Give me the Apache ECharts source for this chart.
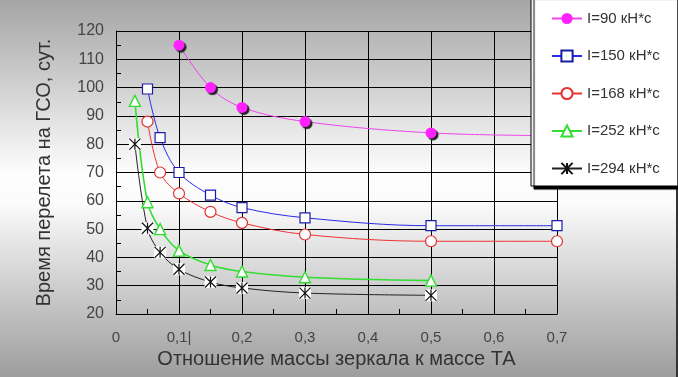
<!DOCTYPE html>
<html>
<head>
<meta charset="utf-8">
<script src="https://cdn.jsdelivr.net/npm/echarts@6/dist/echarts.min.js"></script>
<style>
  html, body { margin: 0; padding: 0; }
  #myChart { width: 678px; height: 377px; }
</style>
</head>
<body>
<div id="myChart"></div>
<script>
  // данные с графика
  var names = ['I=90 кН*с', 'I=150 кН*с', 'I=168 кН*с', 'I=252 кН*с', 'I=294 кН*с'];
  var xTickLabels = ['0', '0,1|', '0,2', '0,3', '0,4', '0,5', '0,6', '0,7'];

  var mass90 = [0.1, 0.15, 0.2, 0.3, 0.5, 0.7];
  var time90 = [115, 100, 93, 88, 84, 83];

  var mass150 = [0.05, 0.07, 0.1, 0.15, 0.2, 0.3, 0.5, 0.7];
  var time150 = [99.5, 82.3, 70, 62, 57.6, 54, 51.2, 51.2];
  var time168 = [88, 70, 62.6, 56.1, 52.2, 48.1, 45.7, 45.7];

  var mass252 = [0.03, 0.05, 0.07, 0.1, 0.15, 0.2, 0.3, 0.5];
  var time252 = [95.3, 59.5, 50, 42.4, 37.3, 35, 33, 31.8];
  var time294 = [80, 50.3, 41.8, 35.8, 31.3, 29.2, 27.4, 26.6];

  function pairs(xs, ys) {
    return xs.map(function (x, i) { return [x, ys[i]]; });
  }

  var starPath = 'path://M0,0L10,10M10,0L0,10M5,0L5,10';
  var font = '"Liberation Sans", Arial, sans-serif';

  var myChart = echarts.init(document.getElementById('myChart'));
  myChart.setOption({
    animation: false,
    backgroundColor: {
      type: 'linear', x: 0, y: 0, x2: 0, y2: 1,
      colorStops: [
        { offset: 0, color: '#a5a5a5' },
        { offset: 0.46, color: '#fdfdfd' },
        { offset: 0.54, color: '#fbfbfb' },
        { offset: 1, color: '#9d9d9d' }
      ]
    },
    textStyle: { fontFamily: font },
    graphic: [
      { type: 'rect', shape: { x: 676, y: 0, width: 2, height: 377 }, style: { fill: '#333' } }
    ],
    grid: { left: 116, right: 121, top: 31, bottom: 63 },
    legend: {
      orient: 'vertical',
      left: 531,
      top: -4,
      z: 10,
      data: names,
      itemWidth: 30,
      itemHeight: 14,
      itemGap: 22.5,
      padding: [15, 18, 10, 20],
      backgroundColor: '#fff',
      borderColor: '#000',
      borderWidth: 1,
      shadowColor: '#000',
      shadowBlur: 1,
      shadowOffsetX: 3,
      shadowOffsetY: 3,
      textStyle: { fontSize: 15, color: '#333', fontFamily: font }
    },
    xAxis: {
      type: 'value',
      min: 0,
      max: 0.7,
      interval: 0.1,
      name: 'Отношение массы зеркала к массе ТА',
      nameLocation: 'middle',
      nameGap: 35,
      nameTextStyle: { fontSize: 20, color: '#333' },
      axisLine: { lineStyle: { color: '#000', width: 1 } },
      axisTick: { show: true, inside: true, length: 4, lineStyle: { color: '#000' } },
      minorTick: { show: true, splitNumber: 2, length: 5, lineStyle: { color: '#000' } },
      splitLine: { show: true, lineStyle: { color: '#000', width: 1 } },
      axisLabel: {
        margin: 16,
        fontSize: 15,
        color: '#444',
        formatter: function (v) { return xTickLabels[Math.round(v * 10)]; }
      }
    },
    yAxis: {
      type: 'value',
      min: 20,
      max: 120,
      interval: 10,
      name: 'Время перелета на ГСО, сут.',
      nameLocation: 'middle',
      nameGap: 62,
      nameTextStyle: { fontSize: 20, color: '#333' },
      axisLine: { show: true, lineStyle: { color: '#000', width: 1 } },
      axisTick: { show: true, inside: true, length: 4, lineStyle: { color: '#000' } },
      minorTick: { show: true, splitNumber: 2, length: 5, lineStyle: { color: '#000' } },
      splitLine: { show: true, lineStyle: { color: '#000', width: 1 } },
      axisLabel: { margin: 12, fontSize: 16, color: '#444' }
    },
    series: [
      {
        name: names[0],
        type: 'line',
        smooth: 0.35,
        data: pairs(mass90, time90),
        symbol: 'circle',
        symbolSize: 11,
        lineStyle: { color: '#ee44ee', width: 1 },
        itemStyle: {
          color: '#ff22ff',
          borderWidth: 0,
          shadowColor: '#222',
          shadowBlur: 1,
          shadowOffsetX: 2,
          shadowOffsetY: 2
        }
      },
      {
        name: names[1],
        type: 'line',
        smooth: 0.35,
        data: pairs(mass150, time150),
        symbol: 'rect',
        symbolSize: 10,
        lineStyle: { color: '#2a2ae8', width: 1 },
        itemStyle: { color: '#fff', borderColor: '#1c1ca8', borderWidth: 1.2 }
      },
      {
        name: names[2],
        type: 'line',
        smooth: 0.35,
        data: pairs(mass150, time168),
        symbol: 'circle',
        symbolSize: 11,
        lineStyle: { color: '#ee3333', width: 1 },
        itemStyle: { color: '#fff', borderColor: '#e03030', borderWidth: 1.2 }
      },
      {
        name: names[3],
        type: 'line',
        smooth: 0.35,
        data: pairs(mass252, time252),
        symbol: 'triangle',
        symbolSize: 11,
        lineStyle: { color: '#33dd33', width: 1.6 },
        itemStyle: { color: '#fff', borderColor: '#33dd33', borderWidth: 1.4 }
      },
      {
        name: names[4],
        type: 'line',
        smooth: 0.35,
        data: pairs(mass252, time294),
        symbol: starPath,
        symbolSize: 11,
        lineStyle: { color: '#222', width: 1 },
        itemStyle: { color: '#fff', borderColor: '#111', borderWidth: 1.2 }
      },
      // белые квадраты под маркерами I=294
      {
        name: names[4],
        type: 'line',
        z: 3,
        data: pairs(mass252, time294),
        symbol: 'rect',
        symbolSize: 12,
        lineStyle: { width: 0, opacity: 0 },
        itemStyle: { color: '#fff', borderWidth: 0 }
      },
      {
        name: names[4],
        type: 'line',
        z: 4,
        data: pairs(mass252, time294),
        symbol: starPath,
        symbolSize: 11,
        lineStyle: { width: 0, opacity: 0 },
        itemStyle: { color: '#fff', borderColor: '#111', borderWidth: 1.2 }
      }
    ]
  });
</script>
</body>
</html>
